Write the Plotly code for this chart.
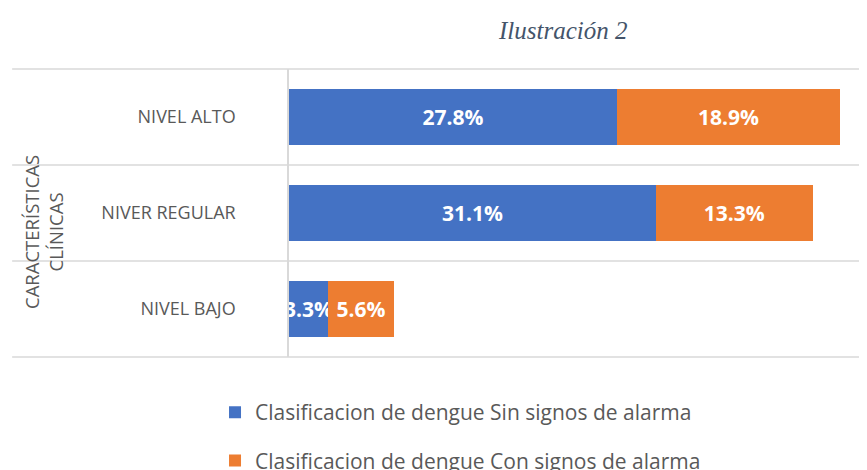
import plotly.graph_objects as go

# data
categories = ["NIVEL BAJO", "NIVER REGULAR", "NIVEL ALTO"]
sin_signos = [3.3, 31.1, 27.8]
con_signos = [5.6, 13.3, 18.9]
series_names = ["Clasificacion de dengue Sin signos de alarma",
                "Clasificacion de dengue Con signos de alarma"]

BLUE = "#4472C4"
ORANGE = "#ED7D31"
GRID = "#D9D9D9"
TEXT = "#595959"

fig = go.Figure()

for i, (vals, color) in enumerate([(sin_signos, BLUE), (con_signos, ORANGE)]):
    fig.add_trace(go.Bar(
        y=categories, x=vals, orientation="h",
        name=series_names[i],
        legendgroup=str(i),
        marker=dict(color=color, line=dict(width=0)),
        text=[f"{v:.1f}%" for v in vals],
        textposition="inside",
        insidetextanchor="middle",
        textangle=0,
        constraintext="none",
        cliponaxis=False,
        textfont=dict(color="white", size=21, family="Open Sans", weight="bold"),
        hoverinfo="skip",
    ))

# category separators, extending into the label area like the original
for yy in [0, 1/3, 2/3, 1]:
    fig.add_shape(type="line", xref="paper", yref="paper",
                  x0=-0.479, x1=1, y0=yy, y1=yy,
                  line=dict(color=GRID, width=1.5), layer="below")

fig.add_annotation(text="CARACTERÍSTICAS<br>CLÍNICAS", textangle=-90,
                   xref="paper", yref="paper", x=-0.4256, y=0.434,
                   xanchor="center", yanchor="middle",
                   showarrow=False,
                   font=dict(family="Open Sans", size=18.5, color=TEXT))

fig.add_annotation(text="<i>Ilustración 2</i>",
                   xref="paper", yref="paper", x=0.474, y=1.135,
                   xanchor="center", yanchor="middle",
                   showarrow=False,
                   font=dict(family="Liberation Serif", size=25, color="#44546A"))

# the page body adds an 8px margin, so the figure is 8px smaller each way
# (no scrollbars) and the margins are shifted to keep the plot in place.
# autoexpand off: the legend runs past the bottom edge and must not squeeze the plot
fig.update_layout(
    barmode="stack",
    bargap=0.42,
    width=859, height=462,
    margin=dict(l=281, r=0, t=61, b=113, autoexpand=False),
    plot_bgcolor="white", paper_bgcolor="white",
    showlegend=True,
    legend=dict(
        orientation="v", x=-0.128, y=-0.122, xanchor="left", yanchor="top",
        traceorder="grouped", tracegroupgap=18,
        font=dict(family="Open Sans", size=21, color=TEXT),
        bgcolor="rgba(0,0,0,0)",
    ),
    xaxis=dict(range=[0, 49], showgrid=False, showticklabels=False,
               zeroline=False, showline=False, fixedrange=True),
    yaxis=dict(showgrid=False, zeroline=False, showline=True,
               linecolor=GRID, linewidth=1.5,
               ticks="", ticklabelstandoff=48,
               tickfont=dict(family="Open Sans", size=18, color=TEXT),
               range=[-0.5, 2.5], fixedrange=True),
)

fig.write_html("out.html")
